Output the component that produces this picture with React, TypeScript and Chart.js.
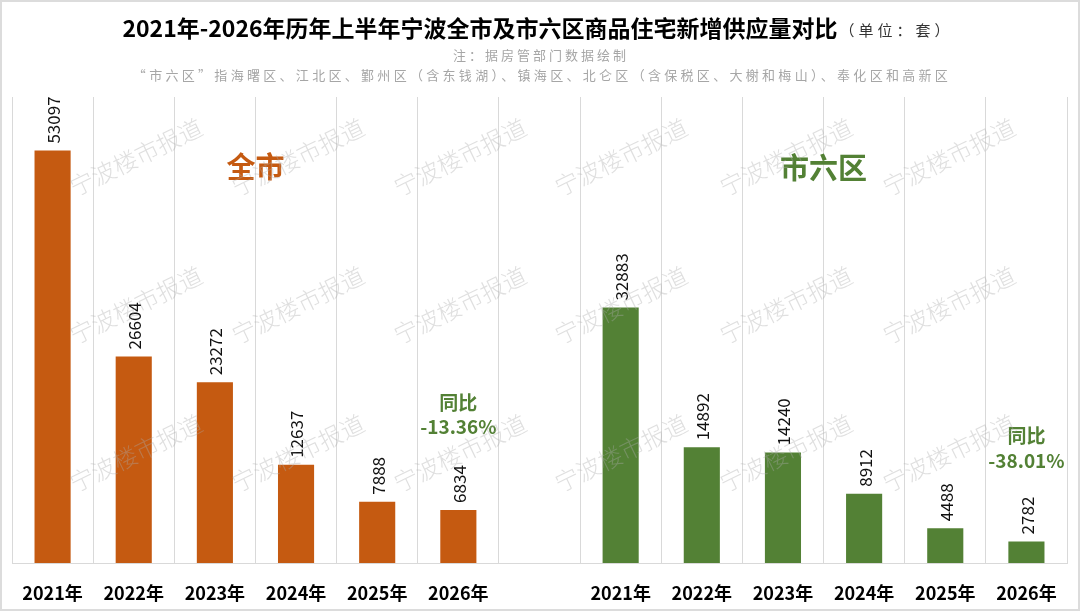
import React, { useEffect, useRef } from 'react';
import { Chart, registerables } from 'chart.js';

Chart.register(...registerables);

// ---------- data ----------
const categories = ['2021年', '2022年', '2023年', '2024年', '2025年', '2026年', '', '2021年', '2022年', '2023年', '2024年', '2025年', '2026年'];
const cityValues = [53097, 26604, 23272, 12637, 7888, 6834, null, null, null, null, null, null, null];
const sixDistrictValues = [null, null, null, null, null, null, null, 32883, 14892, 14240, 8912, 4488, 2782];
const groupNames = ['全市', '市六区'];
const yoyTexts = ['-13.36%', '-38.01%'];
const yMax = 60000;

const titleMain = '2021年-2026年历年上半年宁波全市及市六区商品住宅新增供应量对比';
const titleUnit = '（单位：套）';
const subtitle1 = '注：据房管部门数据绘制';
const subtitle2 = '“市六区”指海曙区、江北区、鄞州区（含东钱湖）、镇海区、北仑区（含保税区、大榭和梅山）、奉化区和高新区';
const watermarkText = '宁波楼市报道';

// ---------- styles ----------
const ORANGE = '#C55A11';
const GREEN = '#538135';
const GRID = '#d9d9d9';
const FONT = '"Noto Sans CJK SC", "Noto Sans", sans-serif';

const wmCols = [136, 298, 460, 621, 786, 949];
const wmRows = [157, 305, 453];

const decor = {
  id: 'decor',
  beforeDraw(chart: any) {
    const ctx = chart.ctx as CanvasRenderingContext2D;
    const { width, height } = chart;
    ctx.save();
    ctx.fillStyle = '#ffffff';
    ctx.fillRect(0, 0, width, height);
    ctx.strokeStyle = '#dcdcdc';
    ctx.lineWidth = 2;
    ctx.strokeRect(1, 1, width - 2, height - 2);

    // title
    ctx.textBaseline = 'middle';
    ctx.textAlign = 'left';
    ctx.font = `bold 23px ${FONT}`;
    (ctx as any).letterSpacing = '0px';
    const w1 = ctx.measureText(titleMain).width;
    ctx.font = `15px ${FONT}`;
    (ctx as any).letterSpacing = '4px';
    const w2 = ctx.measureText(titleUnit).width;
    const sx = 537 - (w1 + w2) / 2;
    (ctx as any).letterSpacing = '0px';
    ctx.font = `bold 23px ${FONT}`;
    ctx.fillStyle = '#000';
    ctx.fillText(titleMain, sx, 28);
    ctx.font = `15px ${FONT}`;
    (ctx as any).letterSpacing = '4px';
    ctx.fillStyle = '#333';
    ctx.fillText(titleUnit, sx + w1 + 2, 30);

    // subtitles
    ctx.font = `13px ${FONT}`;
    ctx.fillStyle = '#a6a6a6';
    ctx.textAlign = 'center';
    (ctx as any).letterSpacing = '3px';
    ctx.fillText(subtitle1, 541, 55);
    (ctx as any).letterSpacing = '3.3px';
    ctx.fillText(subtitle2, 542, 75);
    (ctx as any).letterSpacing = '0px';
    ctx.restore();
  },
  afterDatasetsDraw(chart: any) {
    const ctx = chart.ctx as CanvasRenderingContext2D;
    const xs = chart.scales.x;
    const ys = chart.scales.y;
    ctx.save();
    // value labels
    ctx.font = `17px ${FONT}`;
    ctx.fillStyle = '#111';
    ctx.textAlign = 'left';
    ctx.textBaseline = 'middle';
    chart.data.datasets.forEach((ds: any, di: number) => {
      const meta = chart.getDatasetMeta(di);
      meta.data.forEach((bar: any, i: number) => {
        const v = ds.data[i];
        if (v == null) return;
        ctx.save();
        ctx.translate(bar.x + 1, bar.y - 7);
        ctx.rotate(-Math.PI / 2);
        ctx.fillText(String(v), 0, 0);
        ctx.restore();
      });
    });

    // group names
    ctx.textAlign = 'center';
    ctx.font = `bold 29px ${FONT}`;
    ctx.fillStyle = ORANGE;
    const gx1 = (xs.getPixelForValue(2) + xs.getPixelForValue(3)) / 2;
    ctx.fillText(groupNames[0], gx1, ys.getPixelForValue(51000));
    ctx.fillStyle = GREEN;
    const gx2 = (xs.getPixelForValue(9) + xs.getPixelForValue(10)) / 2;
    ctx.fillText(groupNames[1], gx2, ys.getPixelForValue(50800));

    // YoY
    ctx.font = `bold 19px ${FONT}`;
    ctx.fillStyle = GREEN;
    const lx = xs.getPixelForValue(5);
    ctx.fillText('同比', lx, ys.getPixelForValue(20600));
    ctx.fillText(yoyTexts[0], lx, ys.getPixelForValue(17500));
    const rx = xs.getPixelForValue(12);
    ctx.fillText('同比', rx, ys.getPixelForValue(16350));
    ctx.fillText(yoyTexts[1], rx, ys.getPixelForValue(13100));
    ctx.restore();
  },
  afterDraw(chart: any) {
    const ctx = chart.ctx as CanvasRenderingContext2D;
    ctx.save();
    ctx.font = `300 24px ${FONT}`;
    ctx.fillStyle = 'rgba(170,170,170,0.38)';
    ctx.textAlign = 'center';
    ctx.textBaseline = 'middle';
    for (const y of wmRows) {
      for (const x of wmCols) {
        ctx.save();
        ctx.translate(x, y);
        ctx.rotate(-26 * Math.PI / 180);
        ctx.fillText(watermarkText, 0, 0);
        ctx.restore();
      }
    }
    ctx.restore();
  },
};

export default function App() {
  const ref = useRef<HTMLCanvasElement>(null);
  useEffect(() => {
    if (!ref.current) return;
    const chart = new Chart(ref.current, {
      type: 'bar',
      data: {
        labels: categories,
        datasets: [
          {
            label: groupNames[0],
            data: cityValues as any,
            backgroundColor: ORANGE,
            grouped: false,
            barPercentage: 0.445,
            categoryPercentage: 1,
          } as any,
          {
            label: groupNames[1],
            data: sixDistrictValues as any,
            backgroundColor: GREEN,
            grouped: false,
            barPercentage: 0.445,
            categoryPercentage: 1,
          } as any,
        ],
      },
      options: {
        animation: false,
        responsive: false,
        devicePixelRatio: 1,
        layout: { padding: { top: 97, left: 12, right: 13, bottom: 7 } },
        plugins: {
          legend: { display: false },
          tooltip: { enabled: false },
        },
        scales: {
          x: {
            offset: true,
            grid: { color: GRID, drawTicks: false, offset: true },
            border: { color: GRID },
            ticks: {
              color: '#000',
              font: { family: FONT, size: 18, weight: 'bold' },
              padding: 19,
              maxRotation: 0,
              autoSkip: false,
            },
            afterFit: (axis: any) => {
              axis.height = 41;
            },
          },
          y: { display: false, min: 0, max: yMax },
        },
      } as any,
      plugins: [decor],
    });
    return () => chart.destroy();
  }, []);
  return (
    <div style={{ position: 'absolute', left: 0, top: 0, width: 1080, height: 611 }}>
      <canvas ref={ref} width={1080} height={611} style={{ display: 'block', width: 1080, height: 611 }} />
    </div>
  );
}
